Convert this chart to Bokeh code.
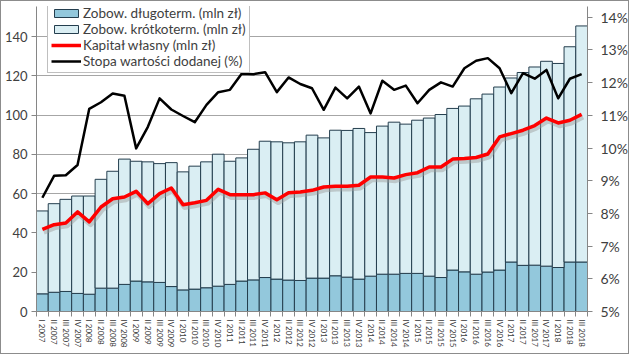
import numpy as np
from bokeh.plotting import figure
from bokeh.models import (Range1d, LinearAxis, FixedTicker, Legend, LegendItem,
                          PrintfTickFormatter, CustomJSTickFormatter)
from bokeh.embed import file_html
from bokeh.resources import INLINE

# ---- data ----
years = list(range(2007, 2019))
roman = ["I", "II", "III", "IV"]
quarters = [f"{q} {y}" for y in years for q in roman][:47]

long_term = [9.0, 9.8, 10.2, 9.2, 8.8, 11.9, 11.9, 13.8, 15.5, 15.1, 14.8, 12.7,
             11.0, 11.4, 12.1, 12.9, 13.8, 15.5, 16.1, 17.3, 16.5, 16.0, 15.8, 17.0,
             17.0, 18.2, 17.5, 16.5, 18.0, 19.0, 19.0, 19.4, 19.4, 18.0, 17.3, 21.1,
             20.2, 19.0, 20.1, 21.1, 25.2, 23.5, 23.6, 23.1, 22.4, 25.2, 25.2]

short_term = [42.2, 45.1, 46.9, 49.6, 50.0, 55.4, 59.5, 63.8, 61.0, 61.1, 60.5, 63.1,
              60.1, 62.6, 64.1, 67.2, 62.7, 62.7, 66.5, 69.4, 69.9, 69.9, 70.6, 72.8,
              71.4, 74.1, 74.7, 76.7, 73.1, 75.4, 77.4, 76.0, 78.0, 80.5, 83.0, 82.3,
              84.4, 89.3, 90.6, 93.2, 93.7, 98.2, 100.9, 104.3, 103.9, 109.6, 120.2]

equity = [41.8, 44.2, 45.1, 50.7, 45.6, 53.2, 57.4, 58.3, 61.2, 54.9, 60.0, 62.9,
          54.4, 55.4, 56.6, 62.2, 59.5, 59.5, 59.5, 60.4, 56.9, 60.5, 60.9, 61.7,
          63.4, 63.8, 63.8, 64.3, 68.5, 68.5, 68.0, 69.7, 70.7, 73.6, 73.6, 77.6,
          77.9, 78.4, 80.2, 88.9, 90.6, 92.3, 94.7, 98.5, 96.0, 97.4, 100.4]

value_added_rate = [8.48, 9.15, 9.17, 9.48, 11.20, 11.40, 11.67, 11.60, 9.99, 10.65,
                    11.52, 11.18, 10.98, 10.79, 11.32, 11.71, 11.78, 12.27, 12.26, 12.32,
                    11.71, 12.16, 11.96, 11.83, 11.17, 11.85, 11.52, 11.88, 11.06, 12.06,
                    11.78, 11.91, 11.37, 11.78, 12.01, 11.88, 12.44, 12.67, 12.75, 12.44,
                    11.68, 12.29, 12.12, 12.39, 11.52, 12.12, 12.26]

left_ticks = [0, 20, 40, 60, 80, 100, 120, 140]
right_ticks = [5, 6, 7, 8, 9, 10, 11, 12, 13, 14]

# ---- figure ----
n = len(quarters)
xs = list(range(n))
total = list(np.add(long_term, short_term))

FONT = "Lato"
TXT = "#404040"

p = figure(width=629, height=354, output_backend="svg", toolbar_location=None,
           x_range=Range1d(-0.5, n - 0.5), y_range=Range1d(0, 155.3),
           min_border_left=35, min_border_right=37, min_border_top=5,
           min_border_bottom=44)
p.extra_y_ranges = {"pct": Range1d(5, 14.33)}
p.outline_line_color = None
p.background_fill_color = "white"
p.border_fill_color = "white"

# grid
p.xgrid.visible = False
p.ygrid.ticker = FixedTicker(ticks=left_ticks[1:])
p.ygrid.grid_line_color = "#A6A6A6"
p.ygrid.grid_line_width = 1

# bars
r_long = p.vbar(x=xs, bottom=0, top=long_term, width=1.0,
                fill_color="#93C8DC", line_color="#243E4E", line_width=1)
r_short = p.vbar(x=xs, bottom=long_term, top=total, width=1.0,
                 fill_color="#DAEEF3", line_color="#243E4E", line_width=1)

# equity line with soft shadow
shadow = [v - 1.4 for v in equity]
p.line([x + 0.12 for x in xs], shadow, line_color="#9A9A9A", line_alpha=0.45,
       line_width=5, line_join="round")
r_eq = p.line(xs, equity, line_color="#FF0000", line_width=3.5, line_join="round")

# value added rate (right axis)
r_va = p.line(xs, value_added_rate, line_color="#000000", line_width=2.5,
              line_join="round", y_range_name="pct")

# axes
p.xaxis.ticker = FixedTicker(ticks=xs, minor_ticks=[i - 0.5 for i in range(n + 1)])
p.xaxis.formatter = CustomJSTickFormatter(args=dict(labels=quarters),
                                          code="const i = Math.round(tick); return labels[i] || '';")
p.xaxis.major_label_orientation = "vertical"
p.xaxis.major_tick_out = 0
p.xaxis.major_tick_in = 0
p.xaxis.minor_tick_out = 5
p.xaxis.minor_tick_in = 0
p.xaxis.minor_tick_line_color = "#868686"
p.xaxis.axis_line_color = "#868686"
p.xaxis.major_label_text_font_size = "8px"
p.xaxis.major_label_text_font = FONT
p.xaxis.major_label_text_color = TXT
p.xaxis.major_label_standoff = 3

p.yaxis.ticker = FixedTicker(ticks=left_ticks)
p.yaxis.major_tick_out = 5
p.yaxis.major_tick_in = 0
p.yaxis.minor_tick_line_color = None
p.yaxis.axis_line_color = "#868686"
p.yaxis.major_tick_line_color = "#868686"
p.yaxis.major_label_text_font_size = "13px"
p.yaxis.major_label_text_font = FONT
p.yaxis.major_label_text_color = TXT
p.yaxis.major_label_standoff = 4

ax_r = LinearAxis(y_range_name="pct", ticker=FixedTicker(ticks=right_ticks),
                  formatter=PrintfTickFormatter(format="%d%%"))
ax_r.major_tick_out = 5
ax_r.major_tick_in = 0
ax_r.minor_tick_line_color = None
ax_r.axis_line_color = "#868686"
ax_r.major_tick_line_color = "#868686"
ax_r.major_label_text_font_size = "14px"
ax_r.major_label_text_font = FONT
ax_r.major_label_text_color = TXT
ax_r.major_label_standoff = 8
p.add_layout(ax_r, "right")

legend = Legend(items=[
    LegendItem(label="Zobow. długoterm. (mln zł)", renderers=[r_long]),
    LegendItem(label="Zobow. krótkoterm. (mln zł)", renderers=[r_short]),
    LegendItem(label="Kapitał własny (mln zł)", renderers=[r_eq]),
    LegendItem(label="Stopa wartości dodanej (%)", renderers=[r_va]),
], location=(11, 238))
legend.border_line_color = "#7F7F7F"
legend.background_fill_color = "white"
legend.background_fill_alpha = 1
legend.label_text_font = FONT
legend.label_text_font_size = "13.5px"
legend.label_text_color = TXT
legend.glyph_width = 30
legend.glyph_height = 10
legend.label_height = 13
legend.label_standoff = 2
legend.spacing = 0
legend.padding = 3
legend.margin = 0
p.add_layout(legend)

p.styles = {"border": "1px solid #8C8C8C", "box-sizing": "border-box"}

open("out.html", "w").write(file_html(p, INLINE))
